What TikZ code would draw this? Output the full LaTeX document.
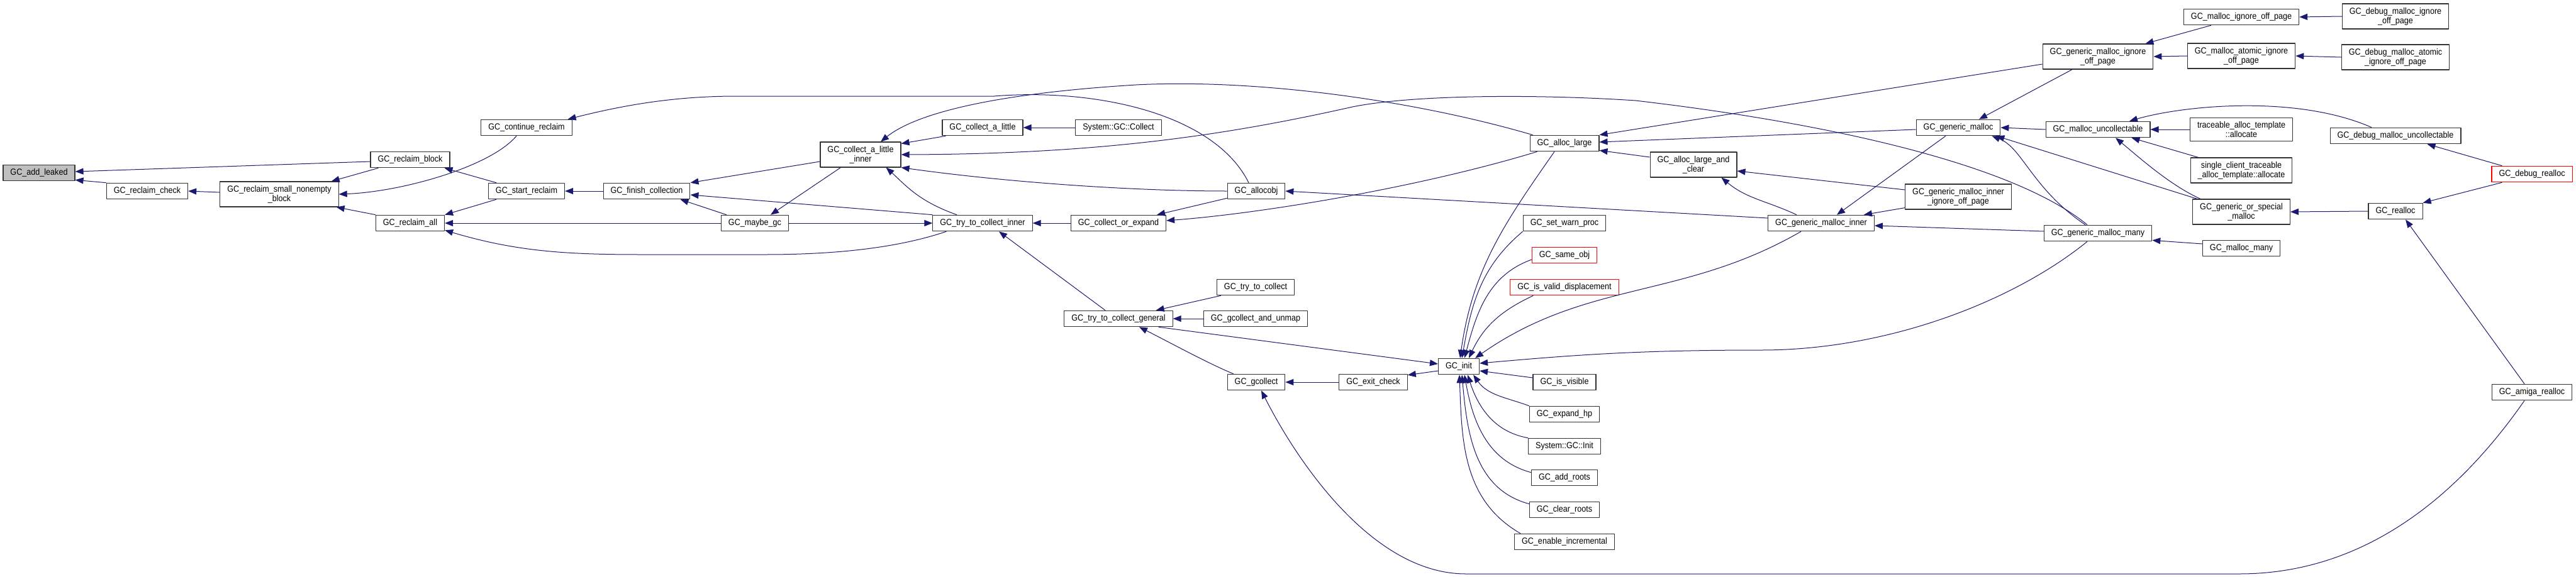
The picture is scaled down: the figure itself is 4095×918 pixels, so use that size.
\documentclass[tikz,border=0pt]{standalone}
\usepackage{fontspec}
\newfontfamily\graphfont{Liberation Sans}[FakeStretch=0.9]
\usetikzlibrary{arrows.meta}
\definecolor{edgeblue}{HTML}{191970}
\definecolor{rootgray}{HTML}{BFBFBF}

\tikzset{
  fn/.style={draw=black!80, line width=1.1pt, fill=white, align=center,
    font=\graphfont\fontsize{14}{15}\selectfont,
    inner xsep=11.5pt, inner ysep=6pt, minimum height=25.5pt},
  fnroot/.style={fn, fill=rootgray},
  fntrunc/.style={fn, draw=red},
  call/.style={draw=edgeblue, line width=1pt, {Triangle[length=13pt, width=10pt]}-},
}

\begin{document}
\begin{tikzpicture}[x=1pt, y=-1pt, line join=round]
  \useasboundingbox (0,0) rectangle (4095,918);

  %--------------------------
  % Reclaim side
  %--------------------------
  \node[fnroot] (add) at (62,275) {GC\_add\_leaked};
  \node[fn] (rcheck) at (234,304) {GC\_reclaim\_check};
  \node[fn] (rsmall) at (444,309) {GC\_reclaim\_small\_nonempty\\\_block};
  \node[fn] (rblock) at (652,254) {GC\_reclaim\_block};
  \node[fn] (rall) at (652,355) {GC\_reclaim\_all};
  \node[fn] (contrecl) at (837,203) {GC\_continue\_reclaim};
  \node[fn] (startrecl) at (837,304) {GC\_start\_reclaim};
  \node[fn] (finish) at (1028,304) {GC\_finish\_collection};
  \node[fn] (maybegc) at (1200,355) {GC\_maybe\_gc};

  %--------------------------
  % Collection
  %--------------------------
  \node[fn] (cali) at (1368,246) {GC\_collect\_a\_little\\\_inner};
  \node[fn] (cal) at (1562,203) {GC\_collect\_a\_little};
  \node[fn] (sysc) at (1778,203) {System::GC::Collect};
  \node[fn] (allocobj) at (1997,304) {GC\_allocobj};
  \node[fn] (ttci) at (1562,355) {GC\_try\_to\_collect\_inner};
  \node[fn] (coe) at (1778,355) {GC\_collect\_or\_expand};
  \node[fn] (ttc) at (1996,457) {GC\_try\_to\_collect};
  \node[fn] (ttcg) at (1778,507) {GC\_try\_to\_collect\_general};
  \node[fn] (unmap) at (1996,507) {GC\_gcollect\_and\_unmap};
  \node[fn] (gcollect) at (1997,608) {GC\_gcollect};
  \node[fn] (exitck) at (2183,608) {GC\_exit\_check};
  \node[fn] (init) at (2319,583) {GC\_init};

  %--------------------------
  % Callers of GC_init, large allocation
  %--------------------------
  \node[fn] (alarge) at (2487,228) {GC\_alloc\_large};
  \node[fn] (setwarn) at (2487,355) {GC\_set\_warn\_proc};
  \node[fntrunc] (sameobj) at (2487,406) {GC\_same\_obj};
  \node[fntrunc] (validd) at (2487,457) {GC\_is\_valid\_displacement};
  \node[fn] (visible) at (2487,608) {GC\_is\_visible};
  \node[fn] (expand) at (2487,659) {GC\_expand\_hp};
  \node[fn] (sysinit) at (2487,710) {System::GC::Init};
  \node[fn] (addroots) at (2487,760) {GC\_add\_roots};
  \node[fn] (clearroots) at (2487,811) {GC\_clear\_roots};
  \node[fn] (enableinc) at (2487,862) {GC\_enable\_incremental};
  \node[fn] (alclear) at (2692,262) {GC\_alloc\_large\_and\\\_clear};

  %--------------------------
  % Malloc family
  %--------------------------
  \node[fn] (gminner) at (2895,355) {GC\_generic\_malloc\_inner};
  \node[fn] (gmalloc) at (3113,203) {GC\_generic\_malloc};
  \node[fn] (gmiig) at (3113,313) {GC\_generic\_malloc\_inner\\\_ignore\_off\_page};
  \node[fn] (gmig) at (3335,90) {GC\_generic\_malloc\_ignore\\\_off\_page};
  \node[fn] (muncoll) at (3335,206) {GC\_malloc\_uncollectable};
  \node[fn] (gmmany) at (3335,371) {GC\_generic\_malloc\_many};
  \node[fn] (mig) at (3563,27) {GC\_malloc\_ignore\_off\_page};
  \node[fn] (maig) at (3563,89) {GC\_malloc\_atomic\_ignore\\\_off\_page};
  \node[fn] (tat) at (3563,206) {traceable\_alloc\_template\\::allocate};
  \node[fn] (sct) at (3563,271) {single\_client\_traceable\\\_alloc\_template::allocate};
  \node[fn] (gosm) at (3563,337) {GC\_generic\_or\_special\\\_malloc};
  \node[fn] (mmany) at (3563,395) {GC\_malloc\_many};
  \node[fn] (dmig) at (3808,26) {GC\_debug\_malloc\_ignore\\\_off\_page};
  \node[fn] (dmaig) at (3808,91) {GC\_debug\_malloc\_atomic\\\_ignore\_off\_page};
  \node[fn] (dmu) at (3808,216) {GC\_debug\_malloc\_uncollectable};
  \node[fn] (realloc) at (3808,336) {GC\_realloc};
  \node[fntrunc] (drealloc) at (4025,277) {GC\_debug\_realloc};
  \node[fn] (amiga) at (4025,624) {GC\_amiga\_realloc};

  % reclaim edges
  \draw[call] ([yshift=2pt]add.east) -- ([yshift=-3pt]rblock.west);
  \draw[call] ([yshift=2pt]add.south east) -- (rcheck.north west);
  \draw[call] (rcheck.east) -- ([yshift=3pt]rsmall.west);
  \draw[call] ([xshift=-12pt]rsmall.north east) -- ([xshift=13pt]rblock.south west);
  \draw[call] (rsmall.east) .. controls (640,305) and (780,265) .. ([xshift=-16pt]contrecl.south);
  \draw[call] ([xshift=-4pt]rsmall.south east) -- (rall.north west);
  \draw[call] ([xshift=-9pt]rblock.south east) -- ([xshift=13pt]startrecl.north west);
  \draw[call] (rall.north east) -- ([xshift=13pt]startrecl.south west);
  \draw[call] (rall.east) -- (maybegc.west);
  \draw[call] ([yshift=2pt]rall.south east) .. controls (820,400) and (900,405) .. (1019,405)
    -- (1216,405) .. controls (1350,405) and (1440,390) .. ([xshift=22pt]ttci.south west);
  \draw[call] (startrecl.east) -- (finish.west);
  \draw[call] (finish.north east) -- ([yshift=-11pt]cali.west);
  \draw[call] ([yshift=-6pt]finish.east) -- (ttci.north west);
  \draw[call] ([xshift=-16pt]finish.south east) -- ([xshift=9pt]maybegc.north west);
  \draw[call] ([xshift=25pt]maybegc.north) -- ([xshift=33pt]cali.south west);

  % collection edges
  \draw[call] ([xshift=-7pt]contrecl.north east) .. controls (1000,165) and (1080,153) .. (1171,153)
    -- (1580,153) .. controls (1740,140) and (1930,180) .. ([xshift=-12pt]allocobj.north);
  \draw[call] ([xshift=32pt]cali.north) .. controls (1450,185) and (1560,150) .. (1806,135)
    .. controls (2000,125) and (2250,160) .. ([xshift=5pt]alarge.north west);
  \draw[call] (cali.east) .. controls (1750,245) and (1950,215) .. (2150,170)
    .. controls (2250,150) and (2450,150) .. (2600,160)
    .. controls (2900,195) and (3200,260) .. ([xshift=-17pt]gmmany.north);
  \draw[call] (cali.south east) .. controls (1600,290) and (1800,304) .. (allocobj.west);
  \draw[call] ([yshift=-3pt]cali.north east) -- ([xshift=6pt]cal.south west);
  \draw[call] (cal.east) -- (sysc.west);
  \draw[call] ([xshift=-24pt]cali.south east) .. controls (1440,295) and (1460,320) .. ([xshift=-41pt]ttci.north);
  \draw[call] (ttci.west) -- (maybegc.east);
  \draw[call] (ttci.east) -- (coe.west);
  \draw[call] ([xshift=-15pt]coe.north east) -- ([yshift=2pt]allocobj.south west);
  \draw[call] ([yshift=4pt]coe.east) .. controls (2000,340) and (2250,300) .. ([xshift=12pt]alarge.south west);
  \draw[call] (allocobj.east) -- ([yshift=8pt]gminner.west);
  \draw[call] ([xshift=26pt]ttci.south) -- ([xshift=-21pt]ttcg.north);
  \draw[call] ([xshift=-27pt]ttcg.north east) -- ([xshift=7pt]ttc.south west);
  \draw[call] (ttcg.east) -- (unmap.west);
  \draw[call] ([xshift=33pt]ttcg.south) .. controls (1860,545) and (1920,578) .. ([xshift=10pt]gcollect.north west);
  \draw[call] ([yshift=4pt]init.west) -- ([xshift=-23pt]ttcg.south east);
  \draw[call] (gcollect.east) -- (exitck.west);
  \draw[call] ([yshift=-2pt]exitck.north east) -- ([yshift=-7pt]init.west);

  % GC_init callers
  \draw[call] ([xshift=2pt]init.north) to[out=82, in=235] ([xshift=-16pt]alarge.south);
  \draw[call] ([xshift=5pt]init.north) to[out=80, in=220] (setwarn.south west);
  \draw[call] ([xshift=9pt]init.north) to[out=75, in=200] ([yshift=-7pt]sameobj.west);
  \draw[call] ([xshift=16pt]init.north) to[out=65, in=205] ([xshift=37pt]validd.south west);
  \draw[call] ([xshift=26pt]init.north) to[out=35, in=210] ([xshift=-32pt]gminner.south);
  \draw[call] ([yshift=5pt]init.east) .. controls (2500,565) and (2600,557) .. (2800,557)
    .. controls (3000,557) and (3200,480) .. ([xshift=-17pt]gmmany.south);
  \draw[call] ([yshift=-7pt]init.east) -- ([yshift=7pt]visible.west);
  \draw[call] ([xshift=-10pt]init.south east) to[out=-55, in=160] (expand.north west);
  \draw[call] ([xshift=14pt]init.south) to[out=-72, in=170] (sysinit.north west);
  \draw[call] ([xshift=9pt]init.south) to[out=-80, in=165] ([yshift=-5pt]addroots.north west);
  \draw[call] ([xshift=5pt]init.south) to[out=-85, in=165] ([yshift=-4pt]clearroots.north west);
  \draw[call] ([xshift=1pt]init.south) to[out=-88, in=150] ([xshift=10pt]enableinc.north west);

  % malloc edges
  \draw[call] (alarge.north east) -- ([yshift=-12pt]gmig.west);
  \draw[call] ([yshift=2pt]alarge.east) -- ([yshift=-3pt]gmalloc.west);
  \draw[call] ([yshift=2pt]alarge.south east) -- ([yshift=12pt]alclear.west);
  \draw[call] ([yshift=-10pt]alclear.east) -- ([yshift=11pt]gmiig.west);
  \draw[call] ([xshift=-25pt]alclear.south east) to[out=-40, in=155] ([xshift=-39pt]gminner.north);
  \draw[call] ([xshift=25pt]gminner.north) -- ([xshift=-20pt]gmalloc.south);
  \draw[call] ([xshift=-17pt]gminner.north east) -- ([yshift=3pt]gmiig.south west);
  \draw[call] ([yshift=-4pt]gminner.east) -- ([yshift=3pt]gmmany.west);
  \draw[call] ([xshift=33pt]gmalloc.north) -- ([xshift=-41pt]gmig.south);
  \draw[call] (gmalloc.east) -- (muncoll.west);
  \draw[call] ([xshift=-14pt]gmalloc.south east) .. controls (3215,235) and (3230,300) .. ([xshift=-20pt]gmmany.north);
  \draw[call] ([xshift=-7pt]gmalloc.south east) -- ([xshift=8pt]gosm.north west);
  \draw[call] ([xshift=50pt]muncoll.north) .. controls (3470,168) and (3650,150) .. ([xshift=-38pt]dmu.north);
  \draw[call] (muncoll.east) -- (tat.west);
  \draw[call] ([xshift=-30pt]muncoll.south east) -- ([xshift=13pt]sct.north west);
  \draw[call] ([xshift=28pt]muncoll.south) .. controls (3400,250) and (3450,295) .. ([xshift=13pt]gosm.north west);
  \draw[call] ([yshift=2pt]gmmany.south east) -- ([yshift=7pt]mmany.west);
  \draw[call] ([xshift=-13pt]gmig.north east) -- ([xshift=44pt]mig.south west);
  \draw[call] (gmig.east) -- (maig.west);
  \draw[call] (mig.east) -- (dmig.west);
  \draw[call] (maig.east) -- (dmaig.west);
  \draw[call] ([xshift=-54pt]dmu.south east) -- ([xshift=17pt]drealloc.north west);
  \draw[call] (realloc.north east) -- ([xshift=17pt]drealloc.south west);
  \draw[call] (gosm.east) -- (realloc.west);
  \draw[call] ([xshift=16pt]realloc.south) -- ([xshift=-12pt]amiga.north);
  \draw[call] ([xshift=8pt]gcollect.south) .. controls (2060,730) and (2180,913) .. (2330,913)
    -- (3560,913) .. controls (3750,913) and (3900,800) .. ([xshift=-12pt]amiga.south);

\end{tikzpicture}
\end{document}
